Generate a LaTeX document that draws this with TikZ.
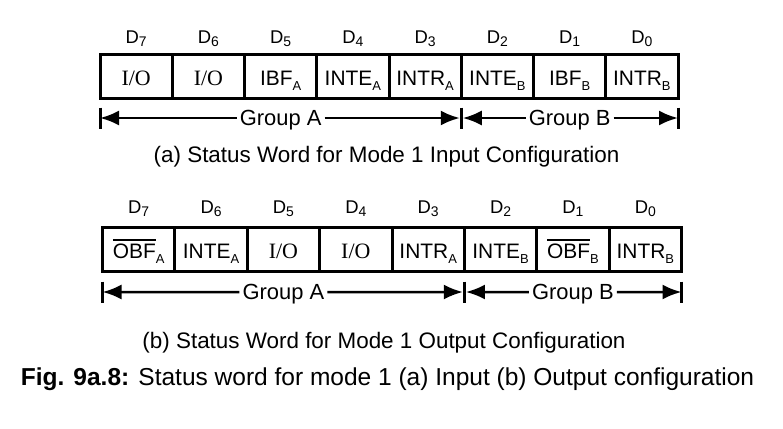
\documentclass[tikz,border=0pt]{standalone}
\usepackage{fontspec}
\setmainfont{Liberation Sans}
\newfontfamily\serf{Liberation Serif}
\usetikzlibrary{arrows.meta,calc}
\newcommand\subx[1]{\raisebox{-5bp}{\fontsize{13}{13}\selectfont #1}}
\newcommand\dsub[1]{\raisebox{-3bp}{\fontsize{14}{14}\selectfont #1}}
\newcommand\ovl[1]{\vbox{\hrule height 1.8bp\kern 2.5bp\hbox{#1}}}
\tikzset{
  cell/.style={draw, line width=3bp, outer sep=0pt, inner sep=0pt,
    minimum height=44bp, text height=18bp, text depth=1bp,
    font=\fontsize{21}{21}\selectfont},
  cellA/.style={cell, minimum width=72.25bp},
  cellB/.style={cell, minimum width=72.375bp},
  io/.style={font=\serf\fontsize{22}{22}\selectfont},
  dlab/.style={anchor=base, inner sep=0pt, font=\fontsize{18.5}{18.5}\selectfont},
  grp/.style={inner sep=3bp, text height=15.8bp, text depth=0bp,
    font=\fontsize{22}{22}\selectfont},
  garrow/.style={line width=2.5bp, -{Latex[length=19bp,width=15bp]}},
  tickline/.style={line width=3bp},
  subcap/.style={anchor=base, inner sep=0pt, font=\fontsize{22.5}{22.5}\selectfont},
  figcap/.style={anchor=base, inner sep=0pt, font=\fontsize{24.6}{24.6}\selectfont}
}
\begin{document}
\begin{tikzpicture}[x=1bp,y=-1bp]
\useasboundingbox (0,0) rectangle (783,428);
% ---- (a) input configuration
\node[cellA,io] (a7) at (136.125,76.5) {I/O};
\node[cellA,io] (a6) at (208.375,76.5) {I/O};
\node[cellA] (a5) at (280.625,76.5) {IBF\subx{A}};
\node[cellA] (a4) at (352.875,76.5) {INTE\subx{A}};
\node[cellA] (a3) at (425.125,76.5) {INTR\subx{A}};
\node[cellA] (a2) at (497.375,76.5) {INTE\subx{B}};
\node[cellA] (a1) at (569.625,76.5) {IBF\subx{B}};
\node[cellA] (a0) at (641.875,76.5) {INTR\subx{B}};
\foreach \k in {7,...,0}{
  \node[dlab] (da\k) at ([yshift=11.5bp]a\k.north) {D\dsub{\k}};
}
\coordinate (aL) at ([yshift=-19.5bp]a7.south west);
\coordinate (aM) at ([yshift=-19.5bp]a3.south east);
\coordinate (aR) at ([yshift=-19.5bp]a0.south east);
\node[grp] (gA) at ($(aL)!0.5!(aM)$) {Group A};
\node[grp] (gB) at ($(aM)!0.5!(aR)$) {Group B};
\draw[garrow] (gA.west) -- (aL);
\draw[garrow, shorten >=1.5bp] (gA.east) -- (aM);
\draw[garrow, shorten >=1.5bp] (gB.west) -- (aM);
\draw[garrow] (gB.east) -- (aR);
\foreach \c in {aL,aM,aR}{
  \draw[tickline] ([yshift=10.5bp]\c) -- ([yshift=-10.5bp]\c);
}
\node[subcap] (capa) at (386.5,162) {(a) Status Word for Mode 1 Input Configuration};
% ---- (b) output configuration
\node[cellB] (b7) at (138.69,249.5) {\ovl{OBF}\subx{A}};
\node[cellB] (b6) at (211.06,249.5) {INTE\subx{A}};
\node[cellB,io] (b5) at (283.44,249.5) {I/O};
\node[cellB,io] (b4) at (355.81,249.5) {I/O};
\node[cellB] (b3) at (428.19,249.5) {INTR\subx{A}};
\node[cellB] (b2) at (500.56,249.5) {INTE\subx{B}};
\node[cellB] (b1) at (572.94,249.5) {\ovl{OBF}\subx{B}};
\node[cellB] (b0) at (645.31,249.5) {INTR\subx{B}};
\foreach \k in {7,...,0}{
  \node[dlab] (db\k) at ([yshift=14.5bp]b\k.north) {D\dsub{\k}};
}
\coordinate (bL) at ([yshift=-20.5bp]b7.south west);
\coordinate (bM) at ([yshift=-20.5bp]b3.south east);
\coordinate (bR) at ([yshift=-20.5bp]b0.south east);
\node[grp] (hA) at ($(bL)!0.5!(bM)$) {Group A};
\node[grp] (hB) at ($(bM)!0.5!(bR)$) {Group B};
\draw[garrow] (hA.west) -- (bL);
\draw[garrow, shorten >=1.5bp] (hA.east) -- (bM);
\draw[garrow, shorten >=1.5bp] (hB.west) -- (bM);
\draw[garrow] (hB.east) -- (bR);
\foreach \c in {bL,bM,bR}{
  \draw[tickline] ([yshift=10.5bp]\c) -- ([yshift=-10.5bp]\c);
}
\node[subcap] (capb) at (384,348) {(b) Status Word for Mode 1 Output Configuration};
% ---- figure caption
\node[figcap] (fig) at (387.5,385) {\textbf{Fig. 9a.8:} Status word for mode 1 (a) Input (b) Output configuration};
\end{tikzpicture}
\end{document}
